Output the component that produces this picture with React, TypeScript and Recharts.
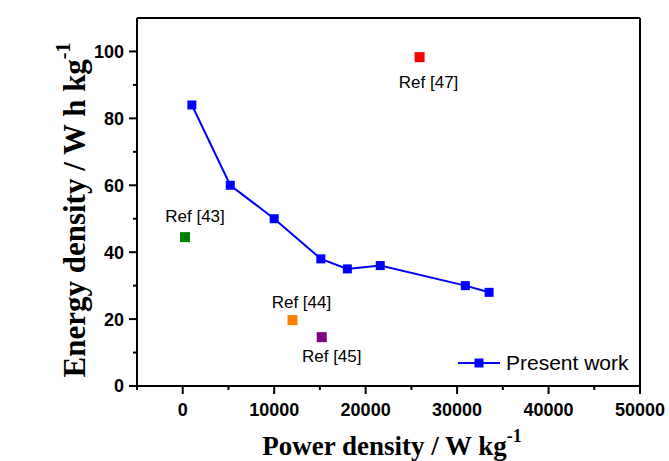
import { ScatterChart, Scatter, XAxis, YAxis, Legend, ReferenceLine } from "recharts";

// present work: power density (W/kg) vs energy density (Wh/kg)
const presentPower = [1000, 5200, 10000, 15100, 18000, 21600, 30900, 33500];
const presentEnergy = [84, 60, 50, 38, 35, 36, 30, 28];

// literature points
const refNames = ["Ref [43]", "Ref [44]", "Ref [45]", "Ref [47]"];
const refPower = [250, 12000, 15200, 25900];
const refEnergy = [44.5, 19.7, 14.6, 98.3];
const refColors = ["#008000", "#ff8000", "#800080", "#ff0000"];
// label placement relative to the marker
const refLabelDx = [10, 9, 10, 9];
const refLabelDy = [-15, -12, 25, 31];

const xTicks = [-5000, 0, 5000, 10000, 15000, 20000, 25000, 30000, 35000, 40000, 45000, 50000];
const yTicks = [0, 10, 20, 30, 40, 50, 60, 70, 80, 90, 100];
const xMin = -5000;
const xMax = 50000;
const yMax = 110;

const present = presentPower.map((x, i) => ({ x, y: presentEnergy[i] }));
const refs = refNames.map((name, i) => ({ name, x: refPower[i], y: refEnergy[i], i }));

const tickFont = "'Liberation Sans', Arial, sans-serif";
const titleFont = "'Liberation Serif', 'Times New Roman', serif";

function YTick(props: any) {
  const { x, y, payload } = props;
  const major = payload.value % 20 === 0;
  return (
    <g>
      <line x1={x} x2={x - (major ? 8 : 4)} y1={y} y2={y} stroke="#000" strokeWidth={2} />
      {major && (
        <text x={x - 13} y={y} dy="0.36em" textAnchor="end" fontFamily={tickFont} fontWeight="bold" fontSize={18} fill="#000">
          {payload.value}
        </text>
      )}
    </g>
  );
}

function XTick(props: any) {
  const { x, y, payload } = props;
  const major = payload.value % 10000 === 0;
  return (
    <g>
      <line x1={x} x2={x} y1={y} y2={y + (major ? 8 : 4)} stroke="#000" strokeWidth={2} />
      {major && (
        <text x={x} y={y + 30} textAnchor="middle" fontFamily={tickFont} fontWeight="bold" fontSize={18} fill="#000">
          {payload.value}
        </text>
      )}
    </g>
  );
}

function BlueSquare(props: any) {
  const { cx, cy } = props;
  return <rect x={cx - 4.5} y={cy - 4.5} width={9} height={9} fill="#0000ff" />;
}

function RefPoint(props: any) {
  const { cx, cy, payload } = props;
  const i = payload.i;
  return (
    <g>
      <rect x={cx - 5} y={cy - 5} width={10} height={10} fill={refColors[i]} />
      <text x={cx + refLabelDx[i]} y={cy + refLabelDy[i]} textAnchor="middle" fontFamily={tickFont} fontSize={17} fill="#000">
        {payload.name}
      </text>
    </g>
  );
}

function LegendBox() {
  return (
    <svg width={190} height={30} style={{ display: "block" }}>
      <line x1={3} x2={45} y1={13} y2={13} stroke="#0000ff" strokeWidth={2} />
      <rect x={19.5} y={8.5} width={9} height={9} fill="#0000ff" />
      <text x={51} y={20} fontFamily={tickFont} fontSize={21} fill="#000">
        Present work
      </text>
    </svg>
  );
}

export default function App() {
  return (
    <div style={{ position: "absolute", left: 0, top: 0, width: 669, height: 461, background: "#fff" }}>
      <ScatterChart width={669} height={461} margin={{ top: 18, right: 29, bottom: 0, left: 0 }}>
        <XAxis
          dataKey="x"
          type="number"
          domain={[xMin, xMax]}
          ticks={xTicks}
          interval={0}
          height={75}
          tickSize={0}
          tickMargin={0}
          tickLine={false}
          tick={<XTick />}
          axisLine={{ stroke: "#000", strokeWidth: 2 }}
          label={{
            content: () => (
              <text x={392} y={455} textAnchor="middle" fontFamily={titleFont} fontWeight="bold" fontSize={27} fill="#000">
                Power density / W kg
                <tspan dy={-13} fontSize={18}>-1</tspan>
              </text>
            ),
          }}
        />
        <YAxis
          dataKey="y"
          type="number"
          domain={[0, yMax]}
          ticks={yTicks}
          interval={0}
          width={137}
          tickSize={0}
          tickMargin={0}
          tickLine={false}
          tick={<YTick />}
          axisLine={{ stroke: "#000", strokeWidth: 2 }}
          label={{
            content: () => (
              <text x={85} y={210} transform="rotate(-90, 85, 210)" textAnchor="middle" fontFamily={titleFont} fontWeight="bold" fontSize={31} fill="#000">
                Energy density / W h kg
                <tspan dy={-15} fontSize={20}>-1</tspan>
              </text>
            ),
          }}
        />
        {/* frame: top and right edges */}
        <ReferenceLine y={yMax} stroke="#000" strokeWidth={2} ifOverflow="visible" />
        <ReferenceLine x={xMax} stroke="#000" strokeWidth={2} ifOverflow="visible" />
        <Scatter name="Present work" data={present} fill="#0000ff" line={{ stroke: "#0000ff", strokeWidth: 2 }} shape={<BlueSquare />} isAnimationActive={false} />
        <Scatter name="refs" data={refs} shape={<RefPoint />} isAnimationActive={false} legendType="none" />
        <Legend
          layout="horizontal"
          verticalAlign="middle"
          align="center"
          content={() => <LegendBox />}
          wrapperStyle={{ position: "absolute", left: 455, top: 350, width: 190, height: 30 }}
        />
      </ScatterChart>
    </div>
  );
}
